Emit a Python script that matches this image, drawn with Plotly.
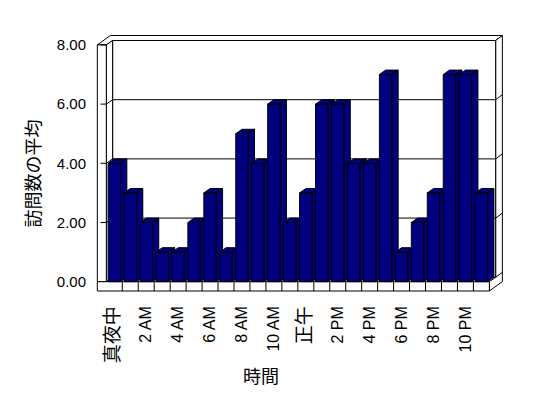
import plotly.graph_objects as go

# ---- data ----
hours = ["真夜中", "1 AM", "2 AM", "3 AM", "4 AM", "5 AM", "6 AM", "7 AM", "8 AM", "9 AM",
         "10 AM", "11 AM", "正午", "1 PM", "2 PM", "3 PM", "4 PM", "5 PM", "6 PM", "7 PM",
         "8 PM", "9 PM", "10 PM", "11 PM"]
values = [4, 3, 2, 1, 1, 2, 3, 1, 5, 4, 6, 2, 3, 6, 6, 4, 4, 7, 1, 2, 3, 7, 7, 3]
y_ticks = [0, 2, 4, 6, 8]
y_tick_labels = ["0.00", "2.00", "4.00", "6.00", "8.00"]
x_title = "時間"
y_title = "訪問数の平均"

# ---- style / geometry (in axis units) ----
NAVY = "#000080"
FONT = "Liberation Sans, Arial, Noto Sans CJK JP, sans-serif"
YMAX = y_ticks[-1]
N = len(values)
FL, FR = -0.5, N - 0.5          # front plane left/right
DX, DY = 0.395, 0.149           # depth offset (front plane -> back wall)
WX, WY = 0.42, 0.169            # wall thickness offset
LWT = 0.564                     # left wall front thickness
FT = 0.314                      # floor front thickness
HW = 0.39                       # half bar width
TICKL = 0.36

fig = go.Figure()


def poly(xs, ys, fill="white", width=1):
    xs = list(xs) + [xs[0]]
    ys = list(ys) + [ys[0]]
    fig.add_trace(go.Scatter(x=xs, y=ys, mode="lines", fill="toself", fillcolor=fill,
                             line=dict(color="black", width=width), hoverinfo="skip",
                             showlegend=False))


def lines(segs, width=1):
    xs, ys = [], []
    for (x0, y0, x1, y1) in segs:
        xs += [x0, x1, None]
        ys += [y0, y1, None]
    fig.add_trace(go.Scatter(x=xs, y=ys, mode="lines", line=dict(color="black", width=width),
                             hoverinfo="skip", showlegend=False))


# top face of walls
poly([FL - LWT, FL, FL + DX, FR + DX, FR + DX + WX, FL - LWT + DX + WX],
     [YMAX, YMAX, YMAX + DY, YMAX + DY, YMAX + DY + WY, YMAX + DY + WY])
# right side of back wall + floor
poly([FR + DX, FR + DX + WX, FR + DX + WX, FR, FR, FR + DX],
     [YMAX + DY, YMAX + DY + WY, -FT + DY + WY, -FT, 0, DY])
lines([(FR + DX, v + DY, FR + DX + WX, v + DY + WY) for v in y_ticks[:-1]])
# back wall inner face
poly([FL + DX, FR + DX, FR + DX, FL + DX], [DY, DY, YMAX + DY, YMAX + DY])
lines([(FL + DX, v + DY, FR + DX, v + DY) for v in y_ticks[1:-1]])
# left wall inner face
poly([FL, FL, FL + DX, FL + DX], [0, YMAX, YMAX + DY, DY])
lines([(FL, v, FL + DX, v + DY) for v in y_ticks[1:-1]])
# left wall front face
poly([FL - LWT, FL, FL, FL - LWT], [0, 0, YMAX, YMAX])
lines([(FL - TICKL, v, FL, v) for v in y_ticks])
# floor front face
poly([FL - LWT, FR, FR, FL - LWT], [-FT, -FT, 0, 0])
lines([(k - 0.5, -FT, k - 0.5, 0) for k in range(1, N)])

# bars (front, top, side) in drawing order
for i, v in enumerate(values):
    xl, xr = i - HW, i + HW
    xs = [xl, xl, xr, xr, xl, None,
          xl, xl + DX, xr + DX, xr, xl, None,
          xr, xr, xr + DX, xr + DX, xr]
    ys = [0, v, v, 0, 0, None,
          v, v + DY, v + DY, v, v, None,
          0, v, v + DY, DY, 0]
    fig.add_trace(go.Scatter(x=xs, y=ys, mode="lines", fill="toself", fillcolor=NAVY,
                             line=dict(color="black", width=1), name=hours[i],
                             hoverinfo="skip", showlegend=False))


def lab(t):
    if any(ord(c) > 0x2000 for c in t):
        return '<span style="font-size:19px">' + t + '</span>'
    return t


tick_idx = list(range(0, N, 2))
fig.update_layout(
    width=540, height=390,
    margin=dict(l=82, r=42, t=22, b=98, autoexpand=False),
    paper_bgcolor="white", plot_bgcolor="white",
    font=dict(family=FONT, size=15, color="black"),
    showlegend=False,
    xaxis=dict(range=[-1.5226, 24.5426], showgrid=False, zeroline=False, showline=False,
               tickmode="array", tickvals=tick_idx, ticktext=[lab(hours[k]) for k in tick_idx],
               tickangle=-90, ticks="", ticklabelstandoff=2, fixedrange=True,
               automargin=False, tickfont=dict(family=FONT, size=16, color="black")),
    yaxis=dict(range=[-0.6182, 8.5034], showgrid=False, zeroline=False, showline=False,
               tickmode="array", tickvals=y_ticks, ticktext=y_tick_labels, ticks="",
               ticklabelstandoff=3, fixedrange=True, automargin=False,
               tickfont=dict(family=FONT, size=15, color="black")),
    annotations=[
        dict(text=x_title, xref="paper", yref="paper", x=0.4106, y=-0.284, showarrow=False,
             xanchor="center", yanchor="middle", font=dict(size=18)),
        dict(text=y_title, xref="paper", yref="paper", x=-0.137, y=0.4685, showarrow=False,
             xanchor="center", yanchor="middle", textangle=-90, font=dict(size=18)),
    ],
)

fig.write_html("out.html")
